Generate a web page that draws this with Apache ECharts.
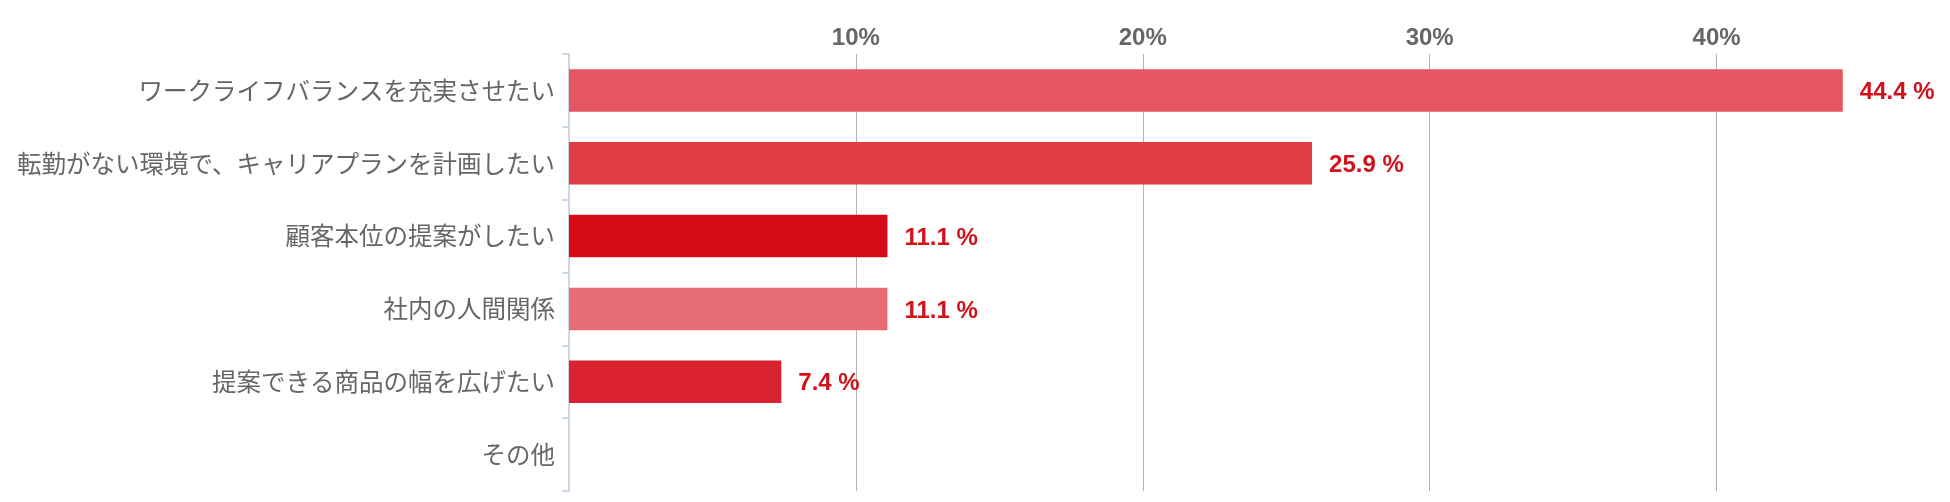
<!DOCTYPE html>
<html>
<head>
<meta charset="utf-8">
<script src="https://cdn.jsdelivr.net/npm/echarts@6/dist/echarts.min.js"></script>
<style>
html,body{margin:0;padding:0;background:#fff;}
#chart{width:1950px;height:502px;}
</style>
</head>
<body>
<div id="chart"></div>
<script>
const categories = [
  'ワークライフバランスを充実させたい',
  '転勤がない環境で、キャリアプランを計画したい',
  '顧客本位の提案がしたい',
  '社内の人間関係',
  '提案できる商品の幅を広げたい',
  'その他'
];
const values = [44.4, 25.9, 11.1, 11.1, 7.4, 0];
const barColors = ['#e45661', '#df3c46', '#d80c19', '#e76c74', '#da2230', '#e45661'];

const chart = echarts.init(document.getElementById('chart'));
chart.setOption({
  animation: false,
  grid: { left: 569, right: 90, top: 54, bottom: 11, containLabel: false },
  xAxis: {
    type: 'value',
    position: 'top',
    min: 0,
    max: 45,
    interval: 10,
    axisLine: { show: false },
    axisTick: { show: false },
    axisLabel: {
      showMinLabel: false,
      showMaxLabel: false,
      margin: 4,
      color: '#666',
      fontFamily: 'Liberation Sans, Arial, sans-serif',
      fontWeight: 'bold',
      fontSize: 24,
      formatter: v => (v % 10 === 0 ? v + '%' : '')
    },
    splitLine: {
      show: true,
      showMinLine: false,
      showMaxLine: false,
      lineStyle: { color: '#b4b4b4', width: 1 }
    }
  },
  yAxis: {
    type: 'category',
    inverse: true,
    data: categories,
    axisLine: { show: true, lineStyle: { color: '#bccbdd', width: 1.5 } },
    axisTick: { show: true, length: 7, lineStyle: { color: '#bccbdd', width: 1.5 } },
    axisLabel: {
      margin: 14,
      color: '#666',
      fontFamily: 'Noto Sans CJK JP, sans-serif',
      fontSize: 24.5
    }
  },
  series: [{
    type: 'bar',
    barCategoryGap: '41.6%',
    data: values.map((v, i) => ({ value: v, itemStyle: { color: barColors[i] } })),
    label: {
      show: true,
      position: 'right',
      distance: 17,
      offset: [0, 2],
      color: '#d0121b',
      fontFamily: 'Liberation Sans, Arial, sans-serif',
      fontWeight: 'bold',
      fontSize: 24,
      formatter: p => (p.value > 0 ? p.value.toFixed(1) + ' %' : '')
    }
  }]
});
</script>
</body>
</html>
